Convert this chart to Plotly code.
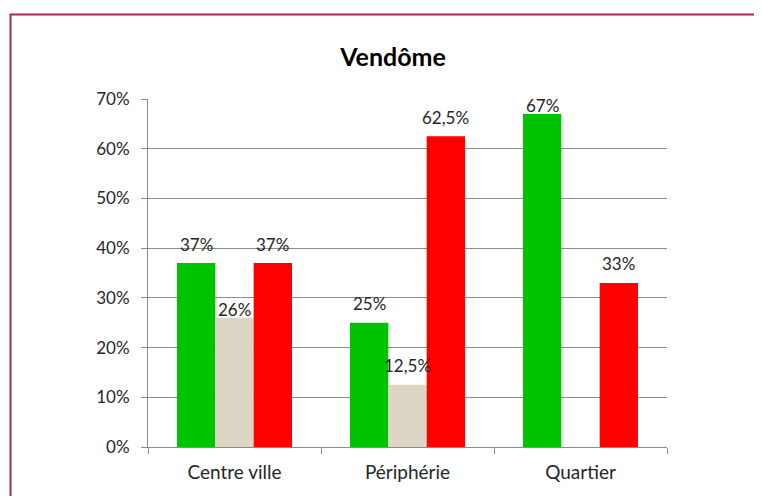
import plotly.graph_objects as go

categories = ["Centre ville", "Périphérie", "Quartier"]
series_names = ["Favorable", "Sans avis", "Défavorable"]
green_vals = [37, 25, 67]
beige_vals = [26, 12.5, None]
red_vals = [37, 62.5, 33]
green_text = ["37%", "25%", "67%"]
beige_text = ["26%", "12,5%", ""]
red_text = ["37%", "62,5%", "33%"]
y_ticks = [0, 10, 20, 30, 40, 50, 60, 70]
y_tick_labels = ["0%", "10%", "20%", "30%", "40%", "50%", "60%", "70%"]

# styles
colors = ["#00c300", "#ddd6c4", "#ff0000"]
label_lift = [[19, 19, 8], [8, 19, 0], [19, 19, 19]]

# page has an 8px body offset
OFF = 8
W, H = 762, 496
ML, MR, MT, MB = 148 - OFF, W - (667 - OFF), 99 - OFF, H - (447 - OFF)
BARGAP = 0.335
plot_w = W - ML - MR
plot_h = H - MT - MB
cat_w = plot_w / len(categories)
bar_w = cat_w * (1 - BARGAP) / 3

FONT = "Lato, 'Open Sans', sans-serif"
TXT = "#262626"

fig = go.Figure()
all_vals = [green_vals, beige_vals, red_vals]
all_text = [green_text, beige_text, red_text]
for i, (name, vals) in enumerate(zip(series_names, all_vals)):
    fig.add_trace(go.Bar(x=categories, y=vals, name=name,
                         marker=dict(color=colors[i], line=dict(width=0)),
                         showlegend=False, hoverinfo="skip"))

annotations = []
for i, (vals, texts) in enumerate(zip(all_vals, all_text)):
    for j, (c, v, t) in enumerate(zip(categories, vals, texts)):
        if v is None or not t:
            continue
        annotations.append(dict(x=c, y=v, xref="x", yref="y", text=t,
                                showarrow=False, xanchor="center", yanchor="middle",
                                xshift=(i - 1) * bar_w, yshift=label_lift[i][j],
                                font=dict(family=FONT, size=17, color=TXT)))

fig.update_layout(
    width=W, height=H,
    margin=dict(l=ML, r=MR, t=MT, b=MB),
    paper_bgcolor="white", plot_bgcolor="white",
    barmode="group", bargap=BARGAP, bargroupgap=0,
    title=dict(text="<b>Vendôme</b>", x=(393 - OFF - ML) / plot_w, xref="paper",
               y=1 - (57 - OFF) / H, yref="container", xanchor="center", yanchor="middle",
               font=dict(family=FONT, size=25, color="#000000")),
    font=dict(family=FONT, size=17, color=TXT),
    annotations=annotations,
    shapes=[dict(type="rect", xref="paper", yref="paper",
                 x0=(10.5 - OFF - ML) / plot_w, x1=(790 - ML) / plot_w,
                 y0=(H - MB - 520) / plot_h, y1=(H - MB - (14.5 - OFF)) / plot_h,
                 line=dict(color="#a8264f", width=2), fillcolor="rgba(0,0,0,0)",
                 layer="above")],
)
fig.update_yaxes(range=[0, 70], tickvals=y_ticks, ticktext=y_tick_labels,
                 showgrid=True, gridcolor="#8c8c8c", gridwidth=1,
                 showline=True, linecolor="#8c8c8c", linewidth=1,
                 ticks="outside", ticklen=6, tickcolor="#8c8c8c",
                 ticklabelstandoff=8, zeroline=False,
                 tickfont=dict(family=FONT, size=17, color=TXT))
fig.update_xaxes(showline=True, linecolor="#8c8c8c", linewidth=1,
                 ticks="outside", ticklen=6, tickcolor="#8c8c8c",
                 tickson="boundaries", showgrid=False,
                 ticklabelstandoff=8,
                 tickfont=dict(family=FONT, size=19, color=TXT))

fig.write_html("out.html")
